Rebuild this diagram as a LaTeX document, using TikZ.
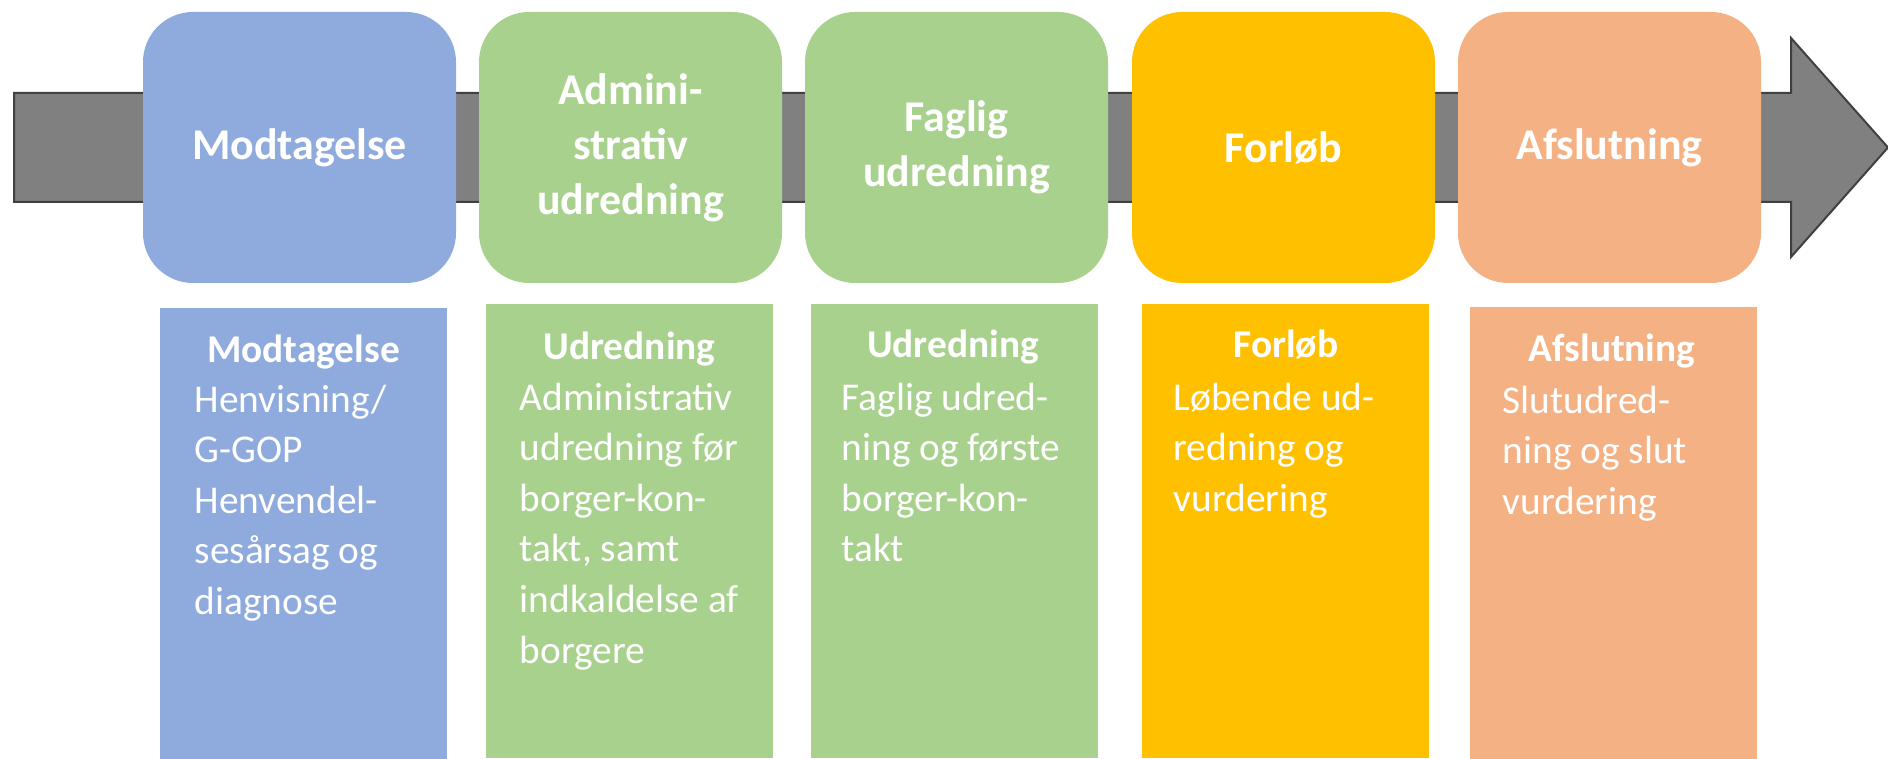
\documentclass[tikz,border=0pt]{standalone}
\usepackage{fontspec}
\setmainfont{Carlito}
\definecolor{fasebla}{HTML}{8FAADC}
\definecolor{fasegron}{HTML}{A9D18E}
\definecolor{fasegul}{HTML}{FFC000}
\definecolor{faseorange}{HTML}{F4B183}
\definecolor{pilgra}{HTML}{808080}
\definecolor{pilkant}{HTML}{404040}
\tikzset{
  fase/.style={rounded corners=5mm, minimum width=30.3cm/10, minimum height=27.1cm/10,
    inner sep=0pt, align=center, text=white, font=\bfseries\fontsize{12.5}{15.6}\selectfont},
  kolonne/.style={anchor=north, inner sep=0pt, minimum width=28.7cm/10, minimum height=45.4cm/10},
  koltitel/.style={anchor=base, inner sep=0pt, text=white, font=\bfseries\fontsize{11.2}{14.2}\selectfont},
  koltekst/.style={anchor=north west, inner sep=0pt, align=left, text=white, font=\fontsize{11.2}{14.4}\selectfont}
}

\begin{document}
\begin{tikzpicture}[x=0.1mm,y=-0.1mm]
                \useasboundingbox (0,0) rectangle (1888,759);
                % pil bag faserne
                \draw[fill=pilgra,draw=pilkant,line width=0.2mm] (14,93) -- (1791,93) -- (1791,38) -- (1888,147.5) -- (1791,257) -- (1791,202) -- (14,202) -- cycle;
                % faser
                \node[fase,fill=fasebla,minimum width=31.3mm] (modtag) at (299.5,147.5) {Modtagelse};
                \node[fase,fill=fasegron] (admin) at (630.5,147.5) {Admini-\\strativ\\udredning};
                \node[fase,fill=fasegron] (faglig) at (956.5,147.5) {Faglig\\udredning};
                \node[fase,fill=fasegul] (forlob) at (1283.5,147.5) {Forløb};
                \node[fase,fill=faseorange] (afslut) at (1609.5,147.5) {Afslutning};
                % kolonner
                \node[kolonne,fill=fasebla] (kolA) at (303.5,307) {};
                \node[kolonne,fill=fasegron] (kolB) at (629.5,303) {};
                \node[kolonne,fill=fasegron] (kolC) at (954,303) {};
                \node[kolonne,fill=fasegul] (kolD) at (1285,303) {};
                \node[kolonne,fill=faseorange] (kolE) at (1613.5,306) {};
                \node[koltitel] (titA) at (303.5,363) {Modtagelse};
                \node[koltitel] (titB) at (629.5,360) {Udredning};
                \node[koltitel] (titC) at (953,358) {Udredning};
                \node[koltitel] (titD) at (1286,358) {Forløb};
                \node[koltitel] (titE) at (1612,362) {Afslutning};
                \node[koltekst] (txtA) at (194,384) {Henvisning/\\G-GOP\\Henvendel-\\sesårsag og\\diagnose};
                \node[koltekst] (txtB) at (519,382) {Administrativ\\udredning før\\borger-kon-\\takt, samt\\indkaldelse af\\borgere};
                \node[koltekst] (txtC) at (841,382) {Faglig udred-\\ning og første\\borger-kon-\\takt};
                \node[koltekst] (txtD) at (1173,382) {Løbende ud-\\redning og\\vurdering};
                \node[koltekst] (txtE) at (1502,385) {Slutudred-\\ning og slut\\vurdering};
            \end{tikzpicture}
\end{document}
